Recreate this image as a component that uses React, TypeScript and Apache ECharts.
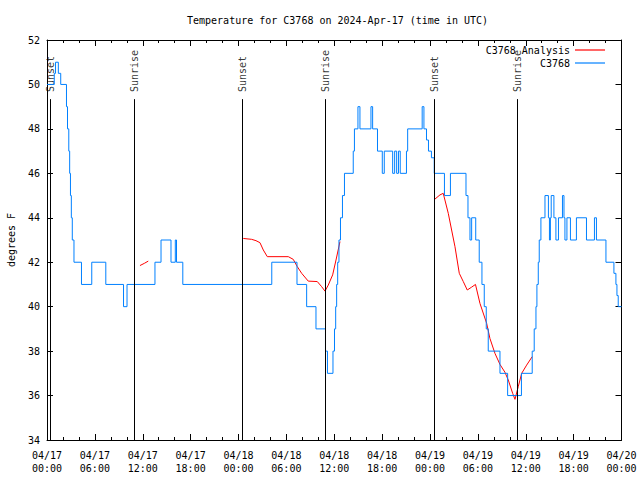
import React, { useEffect, useRef } from "react";
import * as echarts from "echarts";

const FONT = "'DejaVu Sans Mono', 'Liberation Mono', monospace";

const titleText = "Temperature for C3768 on 2024-Apr-17 (time in UTC)";
const yAxisTitle = "degrees F";

// hours since 04/17 00:00 UTC
const xTickLabels = [
  "04/17\n00:00", "04/17\n06:00", "04/17\n12:00", "04/17\n18:00",
  "04/18\n00:00", "04/18\n06:00", "04/18\n12:00", "04/18\n18:00",
  "04/19\n00:00", "04/19\n06:00", "04/19\n12:00", "04/19\n18:00",
  "04/20\n00:00",
];

// Station observations (value changes; drawn as steps)
const stationHours = [
  0, 0.91, 1.07, 1.42, 1.72, 2.44, 2.57, 2.73, 2.84, 2.94, 3.05, 3.17, 3.38, 4.32, 5.61, 7.37,
  9.59, 10.03, 13.53, 14.29, 15.54, 16.08, 16.23, 17.02, 28.17, 31.33, 32.54, 33.71, 34.9, 35.15,
  35.84, 36.03, 36.18, 36.3, 36.43, 36.59, 36.78, 37.03, 37.28, 38.38, 38.53, 38.97, 39.22, 40.6,
  40.81, 41.42, 42.02, 42.27, 43.32, 43.57, 43.82, 44.05, 44.27, 45.05, 45.2, 47.02, 47.24, 47.56,
  47.81, 48.18, 48.53, 49.81, 50.56, 52.51, 52.76, 53.01, 53.22, 53.73, 54.17, 54.51, 54.8, 55.05,
  55.3, 56.77, 57.73, 59.46, 60.81, 61.06, 61.28, 61.4, 61.57, 61.69, 61.9, 62.41, 62.84, 62.97,
  63.09, 63.19, 63.53, 63.78, 64.1, 64.6, 64.79, 64.91, 65.16, 65.6, 66.35, 67.61, 68.61, 68.86,
  70.05, 71.05, 71.3, 71.43, 71.59, 72,
];
const stationTemps = [
  50, 50.5, 51, 50.5, 50, 49, 48, 47, 46, 45, 44, 43, 42, 41, 42, 41,
  40, 41, 42, 43, 42, 43, 42, 41, 42, 41, 40, 39, 38, 37,
  38, 39, 40, 41, 42, 43, 44, 45, 46, 47, 48, 49, 48, 49,
  48, 47, 46, 47, 46, 47, 46, 47, 46, 47, 48, 49, 48, 47.5,
  47, 46.7, 46, 45, 46, 45, 44, 43, 44, 43, 42, 41, 40, 39,
  38, 37, 36, 37, 38, 39, 40, 41, 42, 43, 44, 45, 44, 43,
  44, 45, 44, 43, 44, 45, 44, 43, 44, 43, 44, 43, 44, 43,
  42, 41.5, 41, 40.5, 40, 40,
];

// Analysis (three separate pieces)
const analysisHours1 = [11.65, 12.2, 12.69];
const analysisTemps1 = [41.85, 41.95, 42.05];
const analysisHours2 = [
  24.6, 25.65, 26.19, 26.69, 27.11, 27.61, 30.24, 30.86, 31.37, 31.92, 32.74, 33.87, 34.42, 34.84,
  35.25, 35.8, 36.22, 36.72,
];
const analysisTemps2 = [
  43.07, 43.03, 42.97, 42.88, 42.55, 42.25, 42.25, 42.13, 41.8, 41.5, 41.15, 41.13, 40.9, 40.7,
  40.97, 41.43, 42.1, 42.93,
];
const analysisHours3 = [
  48.58, 49.25, 49.66, 50.29, 50.71, 51.13, 51.67, 52.17, 52.67, 53.22, 53.7, 54.26, 55.1, 55.51,
  56.14, 56.77, 57.39, 57.81, 58.36, 58.65, 59.06, 59.49, 60.11, 60.81,
];
const analysisTemps3 = [
  44.83, 45.03, 45.1, 44.2, 43.45, 42.7, 41.5, 41.13, 40.75, 40.88, 41.0, 40.15, 39.25, 38.57,
  37.9, 37.4, 37.05, 36.7, 36.1, 35.83, 36.4, 37.0, 37.37, 37.75,
];

// Sun events
const eventNames = ["Sunset", "Sunrise", "Sunset", "Sunrise", "Sunset", "Sunrise"];
const eventHours = [0.41, 10.94, 24.47, 34.92, 48.53, 58.94];
const eventLineTop = 49.34;
const eventLabelBase = 49.66;

const Y_MIN = 34;
const Y_MAX = 52;
const X_MIN = 0;
const X_MAX = 72;

const RED = "#ff0000";
const BLUE = "#0080ff";

function pairs(xs: number[], ys: number[]) {
  return xs.map((x, i) => [x, ys[i]]);
}

export default function App() {
  const ref = useRef<HTMLDivElement>(null);

  useEffect(() => {
    if (!ref.current) return;
    const chart = echarts.init(ref.current, undefined, { renderer: "svg" });

    const tickStyle = { color: "#000", width: 1 };
    const baseX = {
      type: "value",
      min: X_MIN,
      max: X_MAX,
      interval: 6,
      axisLine: { show: true, onZero: false, lineStyle: tickStyle },
      axisTick: { show: true, inside: true, length: 6, lineStyle: tickStyle },
      minorTick: { show: true, splitNumber: 3, length: 3, lineStyle: tickStyle },
      splitLine: { show: false },
      minorSplitLine: { show: false },
    };
    const baseY = {
      type: "value",
      min: Y_MIN,
      max: Y_MAX,
      interval: 2,
      axisLine: { show: true, onZero: false, lineStyle: tickStyle },
      axisTick: { show: true, inside: true, length: 6, lineStyle: tickStyle },
      splitLine: { show: false },
    };

    const analysisLine = (xs: number[], ys: number[]) => ({
      name: "C3768 Analysis",
      type: "line",
      data: pairs(xs, ys),
      symbol: "none",
      lineStyle: { color: RED, width: 1 },
      itemStyle: { color: RED },
      z: 3,
    });

    chart.setOption({
      animation: false,
      backgroundColor: "#fff",
      textStyle: { fontFamily: FONT },
      title: {
        text: titleText,
        left: 182,
        top: 10,
        textStyle: { fontFamily: FONT, fontSize: 10, fontWeight: "normal", color: "#000" },
      },
      legend: [
        {
          data: ["C3768 Analysis"],
          right: 30,
          top: 40,
          align: "right",
          icon: "rect",
          itemWidth: 30,
          itemHeight: 1.2,
          textStyle: { fontFamily: FONT, fontSize: 10, color: "#000" },
        },
        {
          data: ["C3768"],
          right: 30,
          top: 53,
          align: "right",
          icon: "rect",
          itemWidth: 30,
          itemHeight: 1.2,
          textStyle: { fontFamily: FONT, fontSize: 10, color: "#000" },
        },
      ],
      grid: {
        left: 47,
        right: 18.5,
        top: 40,
        bottom: 40,
        containLabel: false,
        outerBoundsMode: "none",
      },
      xAxis: [
        {
          ...baseX,
          position: "bottom",
          axisLabel: {
            show: true,
            margin: 9,
            fontFamily: FONT,
            fontSize: 10,
            lineHeight: 13,
            color: "#000",
            formatter: (v: number) => xTickLabels[Math.round(v / 6)] ?? "",
          },
        },
        { ...baseX, position: "top", axisLabel: { show: false } },
      ],
      yAxis: [
        {
          ...baseY,
          position: "left",
          name: yAxisTitle,
          nameLocation: "middle",
          nameRotate: 90,
          nameGap: 31,
          nameTextStyle: { fontFamily: FONT, fontSize: 10, color: "#000" },
          axisLabel: { show: true, margin: 7, fontFamily: FONT, fontSize: 10, color: "#000" },
        },
        { ...baseY, position: "right", axisLabel: { show: false } },
      ],
      series: [
        {
          name: "events",
          type: "scatter",
          silent: true,
          data: eventHours.map((h, i) => ({ value: [h, eventLabelBase], name: eventNames[i] })),
          symbolSize: 1,
          itemStyle: { color: "rgba(0,0,0,0)" },
          label: {
            show: true,
            formatter: "{b}",
            position: "inside",
            rotate: 90,
            align: "left",
            verticalAlign: "middle",
            fontFamily: FONT,
            fontSize: 10,
            color: "#000",
          },
          markLine: {
            silent: true,
            symbol: ["none", "none"],
            label: { show: false },
            lineStyle: { color: "#000", width: 1, type: "solid" },
            data: eventHours.map((h) => [{ coord: [h, Y_MIN] }, { coord: [h, eventLineTop] }]),
          },
          z: 2,
        },
        analysisLine(analysisHours1, analysisTemps1),
        analysisLine(analysisHours2, analysisTemps2),
        analysisLine(analysisHours3, analysisTemps3),
        {
          name: "C3768",
          type: "line",
          step: "end",
          data: pairs(stationHours, stationTemps),
          symbol: "none",
          lineStyle: { color: BLUE, width: 1 },
          itemStyle: { color: BLUE },
          z: 4,
        },
      ],
    });

    return () => chart.dispose();
  }, []);

  return (
    <div
      ref={ref}
      style={{ position: "fixed", left: 0, top: 0, width: 640, height: 480, background: "#fff" }}
    />
  );
}
